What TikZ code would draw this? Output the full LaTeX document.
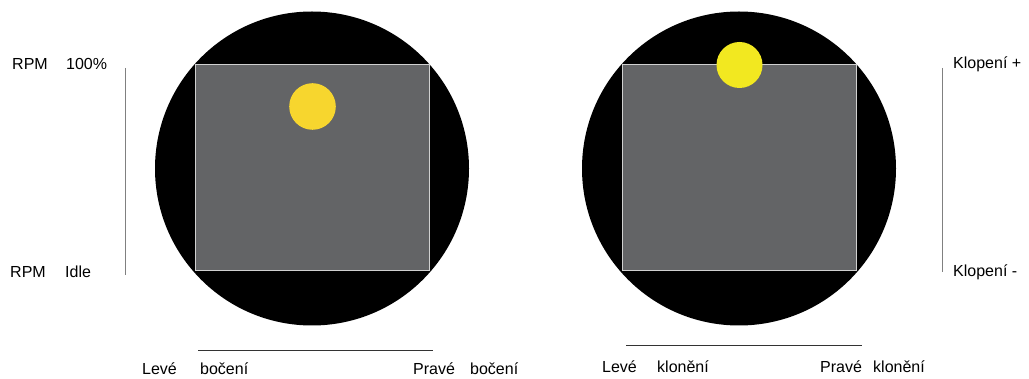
\documentclass[tikz,border=0pt]{standalone}
\usepackage{fontspec}
\setmainfont{Liberation Sans}
\definecolor{padgray}{HTML}{636466}
\definecolor{dotA}{HTML}{F7D62E}
\definecolor{dotB}{HTML}{F2E820}
\definecolor{edgegray}{HTML}{D0D0D0}
\definecolor{axisgray}{HTML}{808080}
\tikzset{
  lbl/.style={anchor=base west, inner sep=0pt, font=\fontsize{16}{18}\selectfont},
  disk/.style={fill=black},
  pad/.style={fill=padgray, draw=edgegray, line width=1pt},
  axis/.style={draw=axisgray, line width=1pt},
  haxis/.style={draw=black!80, line width=0.8pt}
}
\begin{document}
\begin{tikzpicture}[x=1pt,y=-1pt]
\useasboundingbox (0,0) rectangle (1029,379);
% left stick
\fill[disk] (312,168.5) circle (157);
\path[pad] (195,65) rectangle (429,271);
\fill[dotA] (312.5,106.5) circle (23.3);
% right stick
\fill[disk] (739,168.5) circle (157);
\path[pad] (622,65) rectangle (856,271);
\fill[dotB] (739.5,65) circle (23);
% axes
\coordinate (lvt) at (125,68); \coordinate (lvb) at (125,275);
\coordinate (rvt) at (942,68); \coordinate (rvb) at (942,272);
\coordinate (lhl) at (198,350); \coordinate (lhr) at (433,350);
\coordinate (rhl) at (626,345); \coordinate (rhr) at (862,345);
\draw[axis] (lvt) -- (lvb);
\draw[axis] (rvt) -- (rvb);
\draw[haxis] (lhl) -- (lhr);
\draw[haxis] (rhl) -- (rhr);
% labels
\node[lbl] (rpm1) at (12,70) {RPM};
\node[lbl] (pct) at (66,70) {100\%};
\node[lbl] (rpm2) at (10,278) {RPM};
\node[lbl] (idle) at (65,278) {Idle};
\node[lbl] (kp) at (953,68.5) {Klopení +};
\node[lbl] (km) at (953,277) {Klopení -};
\node[lbl] (lev1) at (142,374.5) {Levé};
\node[lbl] (boc1) at (200,374.5) {bočení};
\node[lbl] (prv1) at (413,374.5) {Pravé};
\node[lbl] (boc2) at (470,374.5) {bočení};
\node[lbl] (lev2) at (602,373) {Levé};
\node[lbl] (klo1) at (657,373) {klonění};
\node[lbl] (prv2) at (820,373) {Pravé};
\node[lbl] (klo2) at (873,373) {klonění};
\end{tikzpicture}
\end{document}
